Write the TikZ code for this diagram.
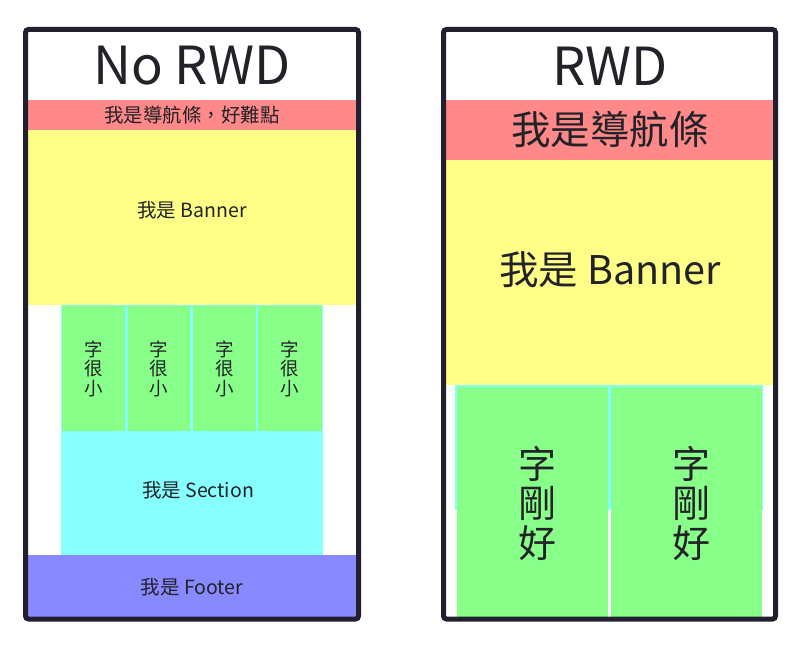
\documentclass[tikz,border=0pt]{standalone}
\usepackage{fontspec}
\setmainfont{Noto Sans CJK TC}
\definecolor{frame}{RGB}{34,32,46}
\definecolor{txt}{RGB}{34,34,40}
\definecolor{navc}{RGB}{255,136,136}
\definecolor{banc}{RGB}{255,255,136}
\definecolor{secc}{RGB}{136,255,255}
\definecolor{boxc}{RGB}{136,255,136}
\definecolor{footc}{RGB}{136,136,255}
\tikzset{
  blk/.style={inner sep=0pt, outer sep=0pt, draw=none},
  lbl/.style={text=txt, inner sep=0pt, align=center},
  frm/.style={draw=frame, line width=5pt, rounded corners=3pt},
}
\newcommand{\fsz}[1]{\fontsize{#1}{#1}\selectfont}
\begin{document}
\begin{tikzpicture}[x=1pt,y=-1pt]
\useasboundingbox (0,0) rectangle (804,652);
% ---------- left: No RWD ----------
\fill[navc] (28,100) rectangle (356,130);
\fill[banc] (28,130) rectangle (356,305);
\fill[secc] (61,305) rectangle (323,555);
\fill[boxc] (61.5,305.7) rectangle (125,430.7);
\fill[boxc] (127.7,305.7) rectangle (190,430.7);
\fill[boxc] (192.7,305.7) rectangle (256,430.7);
\fill[boxc] (257.7,305.7) rectangle (321.5,430.7);
\fill[footc] (28,555) rectangle (356,617);
\node[lbl, font=\fsz{52.5}] (t1) at (192,66) {No RWD};
\node[lbl, font=\fsz{19.5}] (n1) at (192,115) {我是導航條，好難點};
\node[lbl, font=\fsz{19.5}] (b1) at (192,210) {我是 Banner};
\node[lbl, font=\fontsize{18.5}{19.5}\selectfont] (s1) at (93.3,368.5) {字\\很\\小};
\node[lbl, font=\fontsize{18.5}{19.5}\selectfont] (s2) at (158.8,368.5) {字\\很\\小};
\node[lbl, font=\fontsize{18.5}{19.5}\selectfont] (s3) at (224.3,368.5) {字\\很\\小};
\node[lbl, font=\fontsize{18.5}{19.5}\selectfont] (s4) at (289.6,368.5) {字\\很\\小};
\node[lbl, font=\fsz{19.5}] (c1) at (198,490) {我是 Section};
\node[lbl, font=\fsz{19.5}] (f1) at (192,587) {我是 Footer};
\draw[frm] (25.5,29.5) rectangle (358.5,619);
% ---------- right: RWD ----------
\fill[navc] (446,100) rectangle (773,160);
\fill[banc] (446,160) rectangle (773,385);
\fill[secc] (455,385) rectangle (763.3,510);
\fill[boxc] (457,386.7) rectangle (608.3,617);
\fill[boxc] (610.7,386.7) rectangle (762.3,617);
\node[lbl, font=\fsz{52.5}] (t2) at (610,66) {RWD};
\node[lbl, font=\fsz{39.5}] (n2) at (610,130) {我是導航條};
\node[lbl, font=\fsz{39.5}] (b2) at (610,270) {我是 Banner};
\node[lbl, font=\fontsize{38}{39.5}\selectfont] (g1) at (537,503) {字\\剛\\好};
\node[lbl, font=\fontsize{38}{39.5}\selectfont] (g2) at (691,503) {字\\剛\\好};
\draw[frm] (443.5,29.5) rectangle (775.5,619);
\end{tikzpicture}
\end{document}
